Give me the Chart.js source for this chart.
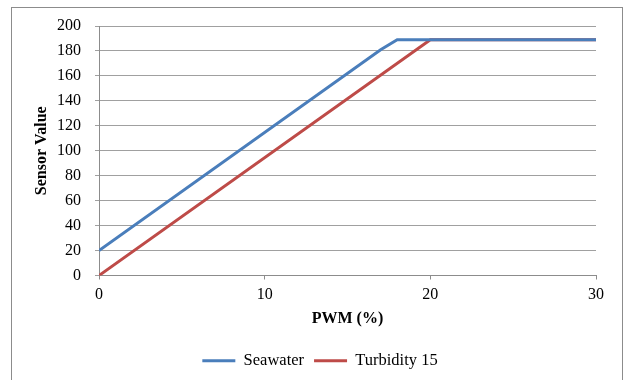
<!DOCTYPE html>
<html lang="en">
<head>
  <meta charset="UTF-8">
  <title>Sensor Value vs PWM</title>
  <script src="https://cdn.jsdelivr.net/npm/chart.js"></script>
  <style>
    body { margin: 0; background: #fff; }
    .wrap { position: relative; width: 625px; height: 380px; }
    .frame { position: absolute; left: 11px; top: 7px; width: 612px; height: 380px; border: 1px solid #8c8c8c; box-sizing: border-box; }
    canvas { position: absolute; left: 0; top: 0; }
  </style>
</head>
<body>
<div class="wrap">
  <div class="frame"></div>
  <canvas id="chart" width="625" height="380"></canvas>
</div>

<script>
  // values
  const seawaterPwm = [0, 17, 18, 30];
  const seawaterVal = [20, 181, 189, 189];
  const turbidityPwm = [0, 20, 30];
  const turbidityVal = [0, 189, 189];
  const xTicks = [0, 10, 20, 30];

  const toPoints = (xs, ys) => xs.map((x, i) => ({ x: x, y: ys[i] }));
  const serif = 'Liberation Serif, Times New Roman, serif';

  // the legend sits centred on the whole frame, not only the plot
  const legendShift = {
    id: 'legendShift',
    afterLayout(chart) {
      chart.legend.left += 22;
      chart.legend.right += 22;
    }
  };

  new Chart(document.getElementById('chart'), {
    type: 'scatter',
    data: {
      datasets: [
        { label: 'Seawater', data: toPoints(seawaterPwm, seawaterVal), showLine: true,
          borderColor: '#4a7ebb', backgroundColor: '#4a7ebb', borderWidth: 3, pointRadius: 0 },
        { label: 'Turbidity 15', data: toPoints(turbidityPwm, turbidityVal), showLine: true,
          borderColor: '#be4b48', backgroundColor: '#be4b48', borderWidth: 3, pointRadius: 0 }
      ]
    },
    plugins: [legendShift],
    options: {
      responsive: false,
      animation: false,
      layout: { padding: { top: 26, right: 29, bottom: 1, left: 0 } },
      plugins: {
        tooltip: { enabled: false },
        legend: {
          position: 'bottom',
          labels: {
            usePointStyle: true, pointStyle: 'line', pointStyleWidth: 33,
            color: '#000', padding: 10, font: { family: serif, size: 16.5 }
          }
        }
      },
      scales: {
        x: {
          type: 'linear', min: 0, max: 30,
          afterBuildTicks: s => { s.ticks = xTicks.map(v => ({ value: v })); },
          afterFit: s => { s.height = 67; },
          grid: { display: true, drawOnChartArea: false, tickLength: 4, color: '#8c8c8c' },
          border: { color: '#8c8c8c' },
          ticks: { color: '#000', padding: 6, font: { family: serif, size: 16 } },
          title: { display: true, text: 'PWM (%)', color: '#000', padding: { top: 0, bottom: 14 },
                   font: { family: serif, size: 16, weight: 'bold' } }
        },
        y: {
          min: 0, max: 200,
          afterFit: s => { s.width = 99; },
          grid: { color: '#a0a0a0', tickLength: 4 },
          border: { color: '#8c8c8c' },
          ticks: { stepSize: 20, color: '#000', padding: 14, font: { family: serif, size: 16 } },
          title: { display: true, text: 'Sensor Value', color: '#000', padding: { top: 32, bottom: 0 },
                   font: { family: serif, size: 16, weight: 'bold' } }
        }
      }
    }
  });
</script>
</body>
</html>
